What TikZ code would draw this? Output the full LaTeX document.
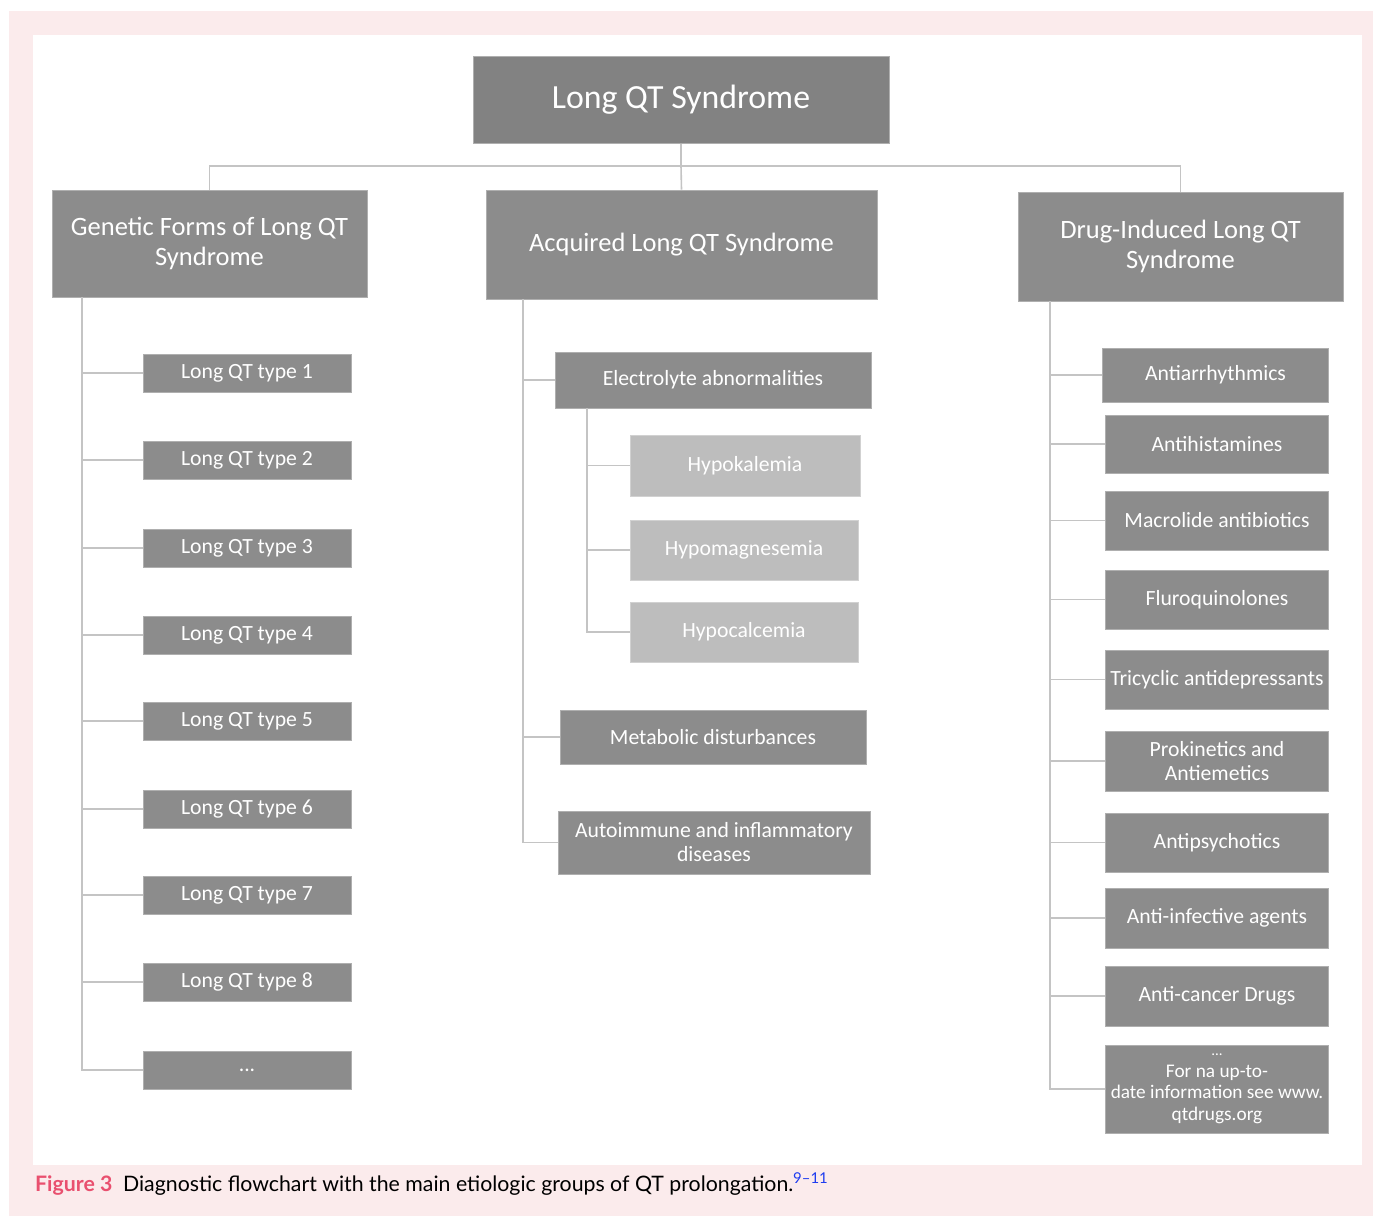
\documentclass[tikz,border=0pt]{standalone}
\usepackage{fontspec}
\setmainfont{Carlito}
\newfontfamily\capfont{Lato}
\usetikzlibrary{positioning}

\definecolor{bgpink}{HTML}{FBEBEC}
\definecolor{figpink}{HTML}{E9506F}
\definecolor{boxgray}{HTML}{8C8C8C}
\definecolor{topgray}{HTML}{828282}
\definecolor{subgray}{HTML}{BDBDBD}
\definecolor{linegray}{HTML}{C4C4C4}
\definecolor{refblue}{HTML}{1E3CF0}

\tikzset{
    box/.style={rectangle, fill=boxgray, draw=boxgray!70!white, line width=0.6pt,
        text=white, align=center, inner sep=2pt},
    head/.style={box, minimum width=315pt, minimum height=107pt,
        font=\fontsize{26.5}{30}\selectfont},
    kid/.style={box, minimum width=208pt, minimum height=38pt,
        font=\fontsize{21.7}{24}\selectfont},
    drug/.style={box, minimum width=223pt, minimum height=59pt,
        font=\fontsize{21.7}{24}\selectfont},
    sub/.style={box, fill=subgray, draw=subgray!70!white},
    link/.style={draw=linegray, line width=1.6pt}
}

\begin{document}
\begin{tikzpicture}[x=1pt,y=-1pt]
    \useasboundingbox (0,0) rectangle (1373,1216);
    \fill[bgpink] (9,11) rectangle (1373,1216);
    \fill[white] (33,35) rectangle (1362,1165);

    % top and group boxes
    \node[box, minimum width=416pt, minimum height=87pt,
        fill=topgray, font=\fontsize{33.8}{38}\selectfont] (lqts) at (681,100) {Long QT Syndrome};
    \node[head] (gen) at (209.5,243.5) {Genetic Forms of Long QT\\Syndrome};
    \node[head, minimum width=391pt, minimum height=109pt] (acq) at (681.5,244.5) {Acquired Long QT Syndrome};
    \node[head, minimum width=325pt, minimum height=109pt] (drg) at (1180.5,246.5) {Drug-Induced Long QT\\Syndrome};

    \coordinate (hub) at (681,166);
    \path[link] (lqts.south) -- (hub);
    \path[link] (hub) -| (gen.north);
    \path[link] (hub) -- (acq.north);
    \path[link] (hub) -| (drg.north);

    % genetic forms
    \node[kid] (t1) at (247,373) {Long QT type 1};
    \node[kid] (t2) at (247,460) {Long QT type 2};
    \node[kid] (t3) at (247,548) {Long QT type 3};
    \node[kid] (t4) at (247,635) {Long QT type 4};
    \node[kid] (t5) at (247,721) {Long QT type 5};
    \node[kid] (t6) at (247,809) {Long QT type 6};
    \node[kid] (t7) at (247,895) {Long QT type 7};
    \node[kid] (t8) at (247,982) {Long QT type 8};
    \node[kid] (tx) at (247,1070) {...};

    \coordinate (gtrunk) at (82,297);
    \foreach \k in {t1,t2,t3,t4,t5,t6,t7,t8,tx}
        \path[link] (gtrunk) |- (\k.west);

    % acquired
    \node[kid, minimum width=316pt, minimum height=56pt] (elec) at (713,380) {Electrolyte abnormalities};
    \node[kid, sub, minimum width=230pt, minimum height=61pt] (kal) at (745,465.5) {Hypokalemia};
    \node[kid, sub, minimum width=228pt, minimum height=60pt] (mag) at (744,550) {Hypomagnesemia};
    \node[kid, sub, minimum width=228pt, minimum height=60pt] (cal) at (744,632) {Hypocalcemia};
    \node[kid, minimum width=306pt, minimum height=54pt] (meta) at (713,737) {Metabolic disturbances};
    \node[kid, minimum width=312pt, minimum height=63pt] (auto) at (714,842.5) {Autoimmune and inflammatory\\diseases};

    \coordinate (atrunk) at (523,299);
    \path[link] (atrunk) |- (elec.west);
    \path[link] (atrunk) |- (meta.west);
    \path[link] (atrunk) |- (auto.west);

    \coordinate (etrunk) at (587,408);
    \path[link] (etrunk) |- (kal.west);
    \path[link] (etrunk) |- (mag.west);
    \path[link] (etrunk) |- (cal.west);

    % drug-induced
    \node[drug, minimum width=226pt, minimum height=54pt] (d1) at (1215.5,375) {Antiarrhythmics};
    \node[drug, minimum height=58pt] (d2) at (1217,444) {Antihistamines};
    \node[drug] (d3) at (1217,520.5) {Macrolide antibiotics};
    \node[drug] (d4) at (1217,599.5) {Fluroquinolones};
    \node[drug] (d5) at (1217,679.5) {Tricyclic antidepressants};
    \node[drug, minimum height=60pt] (d6) at (1217,761) {Prokinetics and\\Antiemetics};
    \node[drug] (d7) at (1217,842.5) {Antipsychotics};
    \node[drug, minimum height=60pt] (d8) at (1217,918) {Anti-infective agents};
    \node[drug, minimum height=60pt] (d9) at (1217,996) {Anti-cancer Drugs};
    \node[drug, minimum height=88pt, inner ysep=0pt, font=\fontsize{19.3}{21.5}\selectfont] (dx) at (1217,1089)
        {{\fontsize{15}{16}\selectfont ...}\\For na up-to-\\date information see www.\\qtdrugs.org};

    \coordinate (dtrunk) at (1050,301);
    \foreach \k in {d1,d2,d3,d4,d5,d6,d7,d8,d9,dx}
        \path[link] (dtrunk) |- (\k.west);

    % caption
    \node[anchor=base west, inner sep=0pt, font=\capfont\fontsize{21.3}{25}\selectfont] (cap) at (35,1191)
        {{\color{figpink}\bfseries Figure 3}\enspace Diagnostic flowchart with the main etiologic groups of QT prolongation.\textsuperscript{\color{refblue}9–11}};
\end{tikzpicture}
\end{document}
